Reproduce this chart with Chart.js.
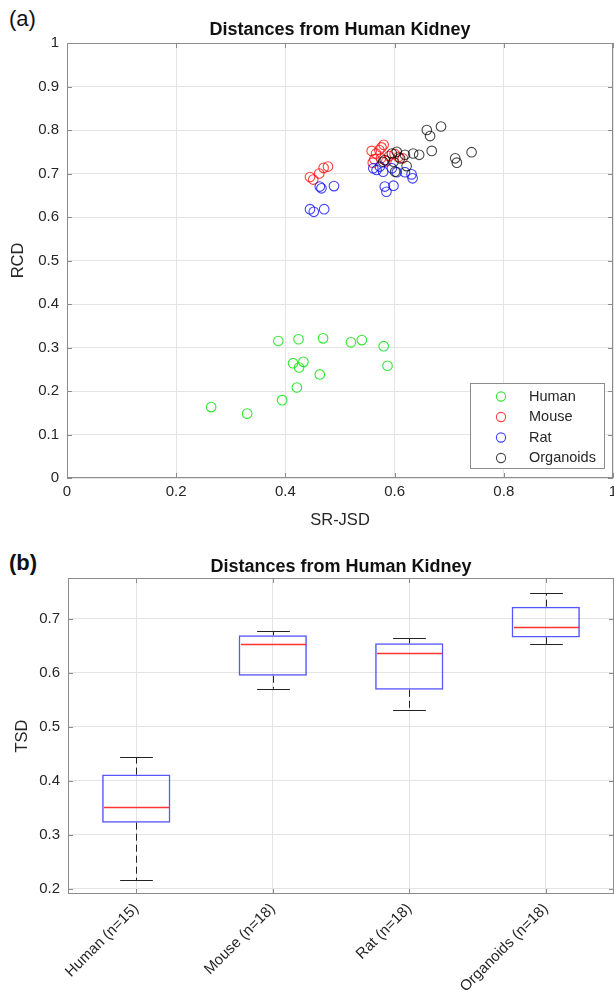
<!DOCTYPE html>
<html>
<head>
<meta charset="utf-8">
<script src="https://cdn.jsdelivr.net/npm/chart.js@4.4.1/dist/chart.umd.min.js"></script>
<style>
  body { margin: 0; background: #fff; width: 614px; height: 990px; position: relative; overflow: hidden;
         font-family: "Liberation Sans", Arial, sans-serif; }
  .panel { position: absolute; left: 9px; font-size: 22px; color: #111; line-height: 26px; }
  #chartA { position: absolute; left: 0; top: 0; }
  #chartB { position: absolute; left: 0; top: 530px; }
</style>
</head>
<body>
<div class="panel" style="top:6px">(a)</div>
<div class="panel" style="top:550px;font-weight:bold">(b)</div>
<canvas id="chartA" width="614" height="530"></canvas>
<canvas id="chartB" width="614" height="460"></canvas>
<script>
// --- scatter (a): SR-JSD (x) vs RCD (y) ---
const humanSRJSD = [0.387, 0.424, 0.469, 0.520, 0.540, 0.580, 0.414, 0.433, 0.425, 0.587, 0.463, 0.421, 0.394, 0.264, 0.330];
const humanRCD   = [0.315, 0.319, 0.321, 0.312, 0.317, 0.303, 0.264, 0.267, 0.254, 0.258, 0.238, 0.208, 0.179, 0.163, 0.148];

const mouseSRJSD = [0.445, 0.451, 0.462, 0.470, 0.478, 0.558, 0.566, 0.576, 0.580, 0.572, 0.563, 0.560, 0.575, 0.590, 0.600, 0.607, 0.615, 0.585];
const mouseRCD   = [0.692, 0.686, 0.700, 0.713, 0.716, 0.752, 0.746, 0.760, 0.766, 0.754, 0.733, 0.725, 0.735, 0.740, 0.745, 0.738, 0.735, 0.728];

const ratSRJSD = [0.463, 0.466, 0.489, 0.445, 0.452, 0.471, 0.561, 0.573, 0.579, 0.595, 0.604, 0.619, 0.631, 0.633, 0.582, 0.585, 0.598, 0.567];
const ratRCD   = [0.670, 0.666, 0.671, 0.618, 0.612, 0.618, 0.712, 0.716, 0.704, 0.712, 0.703, 0.703, 0.698, 0.689, 0.670, 0.658, 0.672, 0.708];

const orgSRJSD = [0.659, 0.685, 0.665, 0.668, 0.634, 0.645, 0.711, 0.714, 0.741, 0.604, 0.582, 0.598, 0.619, 0.622, 0.601, 0.579, 0.610, 0.595];
const orgRCD   = [0.800, 0.808, 0.786, 0.752, 0.746, 0.743, 0.735, 0.725, 0.749, 0.750, 0.731, 0.727, 0.743, 0.717, 0.704, 0.727, 0.735, 0.746];

// --- box plot (b): TSD ---
const tsdLabels = ['Human (n=15)', 'Mouse (n=18)', 'Rat (n=18)', 'Organoids (n=18)'];
const tsdMin    = [0.215, 0.570, 0.531, 0.653];
const tsdQ1     = [0.322, 0.594, 0.568, 0.665];
const tsdMedian = [0.351, 0.653, 0.636, 0.684];
const tsdQ3     = [0.411, 0.669, 0.654, 0.722];
const tsdMax    = [0.443, 0.677, 0.663, 0.747];
const tsdTicks  = [0.2, 0.3, 0.4, 0.5, 0.6, 0.7];

const TITLE = 'Distances from Human Kidney';
const FONT = '"Liberation Sans", Arial, sans-serif';
Chart.defaults.font.family = FONT;
Chart.defaults.color = '#262626';

const pts = (xs, ys) => xs.map((x, i) => ({ x: x, y: ys[i] }));
const shortNum = v => String(Number(v.toFixed(2)));

// title centred over the plot area (matlab style), not the canvas
const axesTitle = {
  id: 'axesTitle',
  afterDraw(chart, args, opts) {
    const { ctx, chartArea: a } = chart;
    ctx.save();
    ctx.font = 'bold 18px ' + FONT;
    ctx.fillStyle = '#111';
    ctx.textAlign = 'center';
    ctx.textBaseline = 'middle';
    ctx.fillText(opts.text, (a.left + a.right) / 2, a.top - opts.gap);
    ctx.restore();
  }
};

// axes box + inward ticks
const framePlugin = {
  id: 'frame',
  afterDatasetsDraw(chart) {
    const { ctx, chartArea: a, scales } = chart;
    ctx.save();
    ctx.strokeStyle = '#8c8c8c';
    ctx.lineWidth = 1;
    ctx.strokeRect(a.left + 0.5, a.top + 0.5, a.right - a.left - 1, a.bottom - a.top - 1);
    ctx.beginPath();
    scales.x.ticks.forEach((t, i) => {
      const px = Math.round(scales.x.getPixelForTick(i)) + 0.5;
      ctx.moveTo(px, a.bottom); ctx.lineTo(px, a.bottom - 5);
      ctx.moveTo(px, a.top); ctx.lineTo(px, a.top + 5);
    });
    scales.y.ticks.forEach((t, i) => {
      const py = Math.round(scales.y.getPixelForTick(i)) + 0.5;
      ctx.moveTo(a.left, py); ctx.lineTo(a.left + 5, py);
      ctx.moveTo(a.right, py); ctx.lineTo(a.right - 5, py);
    });
    ctx.stroke();
    ctx.restore();
  }
};

// legend box in the lower right corner
const legendBox = {
  id: 'legendBox',
  afterDraw(chart) {
    const { ctx, chartArea: a } = chart;
    const w = 134, h = 85;
    const x0 = a.right - 9 - w, y0 = a.bottom - 10 - h;
    ctx.save();
    ctx.fillStyle = '#fff';
    ctx.fillRect(x0, y0, w, h);
    ctx.strokeStyle = '#8c8c8c';
    ctx.lineWidth = 1;
    ctx.strokeRect(x0 + 0.5, y0 + 0.5, w, h);
    ctx.font = '14.5px ' + FONT;
    ctx.textBaseline = 'middle';
    chart.data.datasets.forEach((ds, i) => {
      const cy = y0 + 13.5 + i * 20.5;
      ctx.beginPath();
      ctx.arc(x0 + 31, cy, 4.6, 0, Math.PI * 2);
      ctx.strokeStyle = ds.borderColor;
      ctx.lineWidth = 1.1;
      ctx.stroke();
      ctx.fillStyle = '#262626';
      ctx.fillText(ds.label, x0 + 59, cy);
    });
    ctx.restore();
  }
};

const series = [
  { label: 'Human', data: pts(humanSRJSD, humanRCD), color: 'rgba(0,225,0,0.8)', order: 3 },
  { label: 'Mouse', data: pts(mouseSRJSD, mouseRCD), color: 'rgba(255,0,0,0.75)', order: 2 },
  { label: 'Rat', data: pts(ratSRJSD, ratRCD), color: 'rgba(0,0,255,0.75)', order: 1 },
  { label: 'Organoids', data: pts(orgSRJSD, orgRCD), color: 'rgba(0,0,0,0.72)', order: 0 }
];

new Chart(document.getElementById('chartA'), {
  type: 'scatter',
  data: {
    datasets: series.map(s => ({
      label: s.label,
      data: s.data,
      order: s.order,
      borderColor: s.color,
      backgroundColor: 'rgba(0,0,0,0)',
      pointRadius: 4.8,
      pointBorderWidth: 1.1
    }))
  },
  options: {
    responsive: false,
    animation: false,
    devicePixelRatio: 1,
    layout: { autoPadding: false, padding: { top: 43, right: 1 } },
    plugins: {
      legend: { display: false },
      tooltip: { enabled: false },
      title: { display: false },
      axesTitle: { text: TITLE, gap: 13 }
    },
    scales: {
      x: {
        min: 0, max: 1,
        ticks: { stepSize: 0.2, padding: 5, font: { size: 15 }, callback: shortNum },
        grid: { color: '#e4e4e4', drawTicks: false },
        border: { display: false },
        title: { display: true, text: 'SR-JSD', font: { size: 16.5 }, padding: { top: 0, bottom: 0 } },
        afterFit: s => { s.height = 52; s.paddingLeft = 0; s.paddingRight = 0; }
      },
      y: {
        min: 0, max: 1,
        ticks: { stepSize: 0.1, padding: 8, font: { size: 15 }, callback: shortNum },
        grid: { color: '#e4e4e4', drawTicks: false },
        border: { display: false },
        title: { display: true, text: 'RCD', font: { size: 16.5 }, padding: { top: 9, bottom: 0 } },
        afterFit: s => { s.width = 67; s.paddingTop = 0; s.paddingBottom = 0; }
      }
    }
  },
  plugins: [framePlugin, legendBox, axesTitle]
});

// whiskers, caps and medians on top of the floating-bar boxes
const boxParts = {
  id: 'boxParts',
  afterDatasetsDraw(chart) {
    const { ctx, scales: { x, y } } = chart;
    const capHalf = (x.width / tsdLabels.length) * 0.12;
    const boxHalf = (x.width / tsdLabels.length) * 0.25;
    ctx.save();
    tsdLabels.forEach((_, i) => {
      const cx = Math.round(x.getPixelForValue(i)) + 0.5;
      ctx.strokeStyle = '#222';
      ctx.lineWidth = 1;
      ctx.setLineDash([7, 4]);
      ctx.beginPath();
      ctx.moveTo(cx, y.getPixelForValue(tsdQ3[i]));
      ctx.lineTo(cx, y.getPixelForValue(tsdMax[i]));
      ctx.moveTo(cx, y.getPixelForValue(tsdQ1[i]));
      ctx.lineTo(cx, y.getPixelForValue(tsdMin[i]));
      ctx.stroke();
      ctx.setLineDash([]);
      ctx.beginPath();
      [tsdMin[i], tsdMax[i]].forEach(v => {
        const py = Math.round(y.getPixelForValue(v)) + 0.5;
        ctx.moveTo(cx - capHalf, py);
        ctx.lineTo(cx + capHalf, py);
      });
      ctx.stroke();
      const my = Math.round(y.getPixelForValue(tsdMedian[i])) + 0.5;
      ctx.strokeStyle = 'rgba(255,30,30,0.9)';
      ctx.lineWidth = 1.3;
      ctx.beginPath();
      ctx.moveTo(cx - boxHalf + 1.5, my);
      ctx.lineTo(cx + boxHalf - 1.5, my);
      ctx.stroke();
    });
    ctx.restore();
  }
};

new Chart(document.getElementById('chartB'), {
  type: 'bar',
  data: {
    labels: tsdLabels,
    datasets: [{
      data: tsdQ1.map((q, i) => [q, tsdQ3[i]]),
      backgroundColor: 'rgba(0,0,0,0)',
      borderColor: 'rgba(30,30,255,0.75)',
      borderWidth: 1.5,
      borderSkipped: false,
      barPercentage: 0.5,
      categoryPercentage: 1
    }]
  },
  options: {
    responsive: false,
    animation: false,
    devicePixelRatio: 1,
    layout: { autoPadding: false, padding: { top: 48 } },
    plugins: {
      legend: { display: false },
      tooltip: { enabled: false },
      title: { display: false },
      axesTitle: { text: TITLE, gap: 11 }
    },
    scales: {
      x: {
        type: 'category',
        offset: true,
        ticks: { minRotation: 45, maxRotation: 45, padding: 6, font: { size: 15 } },
        grid: { color: '#e4e4e4', drawTicks: false, offset: false },
        border: { display: false },
        afterFit: s => { s.height = 96; s.paddingLeft = 0; s.paddingRight = 0; }
      },
      y: {
        min: 0.19, max: 0.775,
        ticks: { padding: 8, font: { size: 15 } },
        afterBuildTicks: s => { s.ticks = tsdTicks.map(v => ({ value: v })); },
        grid: { color: '#e4e4e4', drawTicks: false },
        border: { display: false },
        title: { display: true, text: 'TSD', font: { size: 16.5 }, padding: { top: 13, bottom: 0 } },
        afterFit: s => { s.width = 68; s.paddingTop = 0; s.paddingBottom = 0; }
      }
    }
  },
  plugins: [boxParts, framePlugin, axesTitle]
});
</script>
</body>
</html>
